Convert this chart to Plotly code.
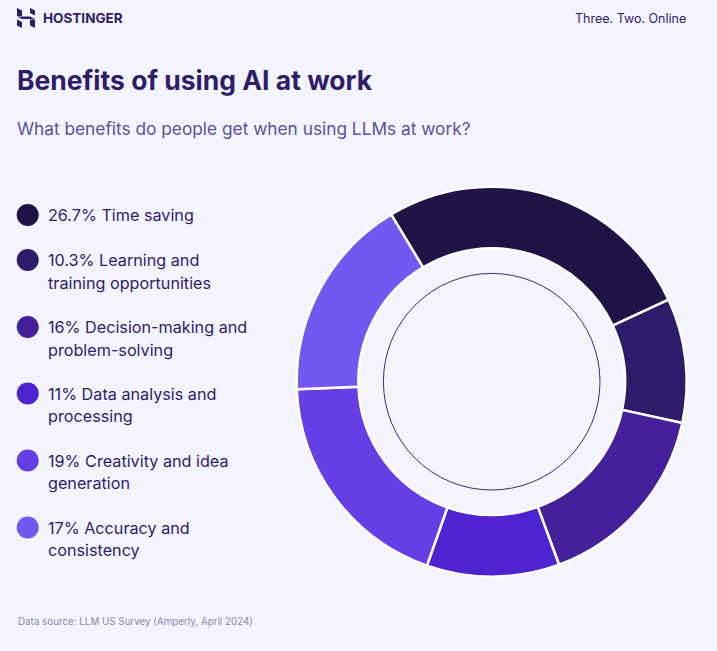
import plotly.graph_objects as go

# ---- data ----
categories = ["Time saving", "Learning and training opportunities", "Decision-making and problem-solving",
              "Data analysis and processing", "Creativity and idea generation", "Accuracy and consistency"]
values = [26.7, 10.3, 16, 11, 19, 17]
value_labels = ["26.7%", "10.3%", "16%", "11%", "19%", "17%"]
label_lines = [["Time saving"],
               ["Learning and", "training opportunities"],
               ["Decision-making and", "problem-solving"],
               ["Data analysis and", "processing"],
               ["Creativity and idea", "generation"],
               ["Accuracy and", "consistency"]]
colors = ["#1F1346", "#2E1C6A", "#45209B", "#4F23CF", "#673DE6", "#7257F0"]

W, H = 717, 651
BG = "#F4F4FF"
DARK = "#2F1C6A"
FONT = "Inter"

fig = go.Figure()

# donut
cx, cy, R = 491.7, 381.7, 195
fig.add_trace(go.Pie(
    values=values, labels=categories, sort=False, direction="clockwise", rotation=-31,
    hole=0.684, marker=dict(colors=colors, line=dict(color="white", width=2.5)),
    textinfo="none", hoverinfo="label+percent", showlegend=False,
    domain=dict(x=[(cx - R) / W, (cx + R) / W], y=[1 - (cy + R) / H, 1 - (cy - R) / H]),
))

# legend markers (pixel-space axis)
leg_y = [215, 260, 327, 393.5, 460.5, 527.5]
fig.add_trace(go.Scatter(
    x=[27.7] * len(values), y=leg_y, mode="markers",
    marker=dict(size=22, color=colors, line=dict(width=0)),
    hoverinfo="skip", showlegend=False, xaxis="x", yaxis="y",
))

fig.update_layout(
    width=W, height=H, margin=dict(l=0, r=0, t=0, b=0),
    paper_bgcolor=BG, plot_bgcolor="rgba(0,0,0,0)",
    xaxis=dict(range=[0, W], visible=False, fixedrange=True, domain=[0, 1]),
    yaxis=dict(range=[H, 0], visible=False, fixedrange=True, domain=[0, 1]),
    font=dict(family=FONT, color=DARK),
)

ann = []
def txt(x, y, s, size, color=DARK, anchor="left", bold=False):
    ann.append(dict(x=x, y=y, xref="x", yref="y", text=("<b>%s</b>" % s) if bold else s,
                    showarrow=False, xanchor=anchor, yanchor="middle",
                    font=dict(size=size, color=color, family=FONT)))

# header
txt(41, 18, "HOSTINGER", 13.5, bold=True)
txt(688, 18, "Three. Two. Online", 12.5, anchor="right")
txt(15, 80, "Benefits of using AI at work", 26.5, bold=True)
txt(15, 128, "What benefits do people get when using LLMs at work?", 17.3, color="#5B4F9E")

# legend text
for yv, vl, lines in zip(leg_y, value_labels, label_lines):
    for i, ln in enumerate(lines):
        s = (vl + " " + ln) if i == 0 else ln
        txt(46, yv + i * 22.5, s, 16.2)

txt(16, 621, "Data source: LLM US Survey (Amperly, April 2024)", 9.8, color="#8C8AA6")
fig.update_layout(annotations=ann)

# logo icon
shapes = []
def path(pts):
    d = "M " + " L ".join("%s,%s" % p for p in pts) + " Z"
    shapes.append(dict(type="path", path=d, xref="x", yref="y", fillcolor=DARK, line=dict(width=0)))
path([(17, 8), (22, 10.5), (22, 16), (17, 16)])              # left upper
path([(30, 8), (35, 10.5), (35, 15.5), (30, 13)])            # right upper
path([(17, 16.5), (30, 16.5), (35, 19), (22, 19)])           # middle slant
path([(17, 19.5), (22, 22), (22, 28), (17, 25.5)])           # left lower
path([(30, 19.5), (35, 19.5), (35, 28), (30, 25.5)])         # right lower
# thin circle inside donut
r2 = 108.3
shapes.append(dict(type="circle", xref="x", yref="y", x0=cx - r2, x1=cx + r2, y0=cy - r2, y1=cy + r2,
                   line=dict(color="#3B2A7A", width=1)))
fig.update_layout(shapes=shapes)

fig.write_html("out.html")
